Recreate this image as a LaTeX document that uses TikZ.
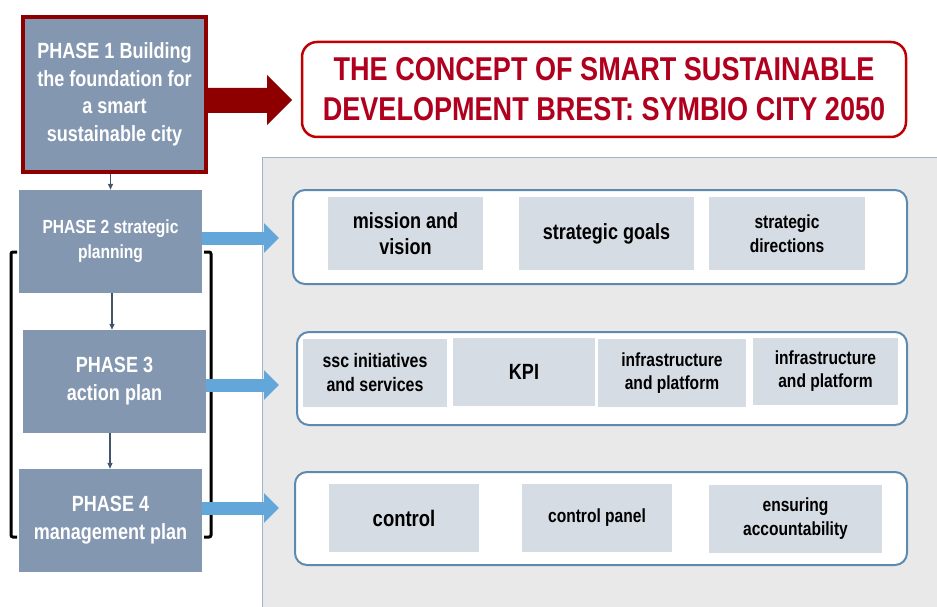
\documentclass[tikz,border=0pt]{standalone}
\usepackage{fontspec}
\newfontfamily\nar[FakeStretch=0.82]{Liberation Sans}
\usetikzlibrary{arrows.meta,calc}
\definecolor{phasefill}{HTML}{8497B0}
\definecolor{cellfill}{HTML}{D6DCE4}
\definecolor{rowborder}{HTML}{5E8AAF}
\definecolor{panelfill}{HTML}{E9E9E9}
\definecolor{panelborder}{HTML}{9DB5CF}
\definecolor{bluearrow}{HTML}{62A6DA}
\definecolor{titlered}{HTML}{C00000}
\definecolor{titletext}{HTML}{B0001E}
\definecolor{darkred}{HTML}{8E0000}
\definecolor{slate}{HTML}{44546A}
\tikzset{
  phase/.style={fill=phasefill, text=white, font=\nar\bfseries, align=center, inner sep=0pt},
  cell/.style={fill=cellfill, text=black, font=\nar\bfseries, align=center, inner sep=0pt},
  rowbox/.style={draw=rowborder, line width=2pt, fill=white, rounded corners=12pt, inner sep=0pt},
  bluearr/.style={draw=bluearrow, line width=13pt, -{Triangle[length=15pt,width=29pt]}},
  phasearr/.style={draw=slate, line width=1.3pt, -{Triangle[length=6pt,width=5pt]}},
  bracket/.style={draw=black, line width=3pt, rounded corners=2pt}
}
\begin{document}
\begin{tikzpicture}[x=1pt,y=-1pt]
\useasboundingbox (0,0) rectangle (937,607);
% gray panel
\fill[panelfill] (262,158) rectangle (940,610);
\draw[panelborder, line width=1pt] (262,610) -- (262,158) -- (940,158);

% title
\node[draw=titlered, line width=2.5pt, fill=white, rounded corners=15pt,
      minimum width=604pt, minimum height=95pt, inner sep=0pt,
      text=titletext, font=\nar\bfseries\fontsize{33}{40}\selectfont, align=center]
      (title) at (604,89.5) {THE CONCEPT OF SMART SUSTAINABLE\\DEVELOPMENT BREST: SYMBIO CITY 2050};

% phases
\node[phase, draw=darkred, line width=4pt, minimum width=183pt, minimum height=154pt,
      font=\nar\bfseries\fontsize{22}{27.5}\selectfont]
      (p1) at (114.5,94.5) {PHASE 1 Building\\the foundation for\\a smart\\sustainable city};
\node[phase, minimum width=183pt, minimum height=103pt,
      font=\nar\bfseries\fontsize{19}{25}\selectfont]
      (p2) at (110.5,241.5) {PHASE 2 strategic\\planning};
\node[phase, minimum width=183pt, minimum height=103pt,
      font=\nar\bfseries\fontsize{22}{28}\selectfont]
      (p3) at (114.5,381.5) {PHASE 3\\action plan};
\node[phase, minimum width=183pt, minimum height=103pt,
      font=\nar\bfseries\fontsize{22}{28}\selectfont]
      (p4) at (110.5,520.5) {PHASE 4\\management plan};

% big red arrow
\fill[darkred] (p1.east |- 0,88) -- (267,88) -- (267,75) -- (292,100) -- (267,125) -- (267,113) -- (p1.east |- 0,113) -- cycle;

% phase arrows
\draw[phasearr] (p1.south -| p2.north) -- (p2.north);
\draw[phasearr] ([xshift=1.5pt]p2.south) -- ([xshift=-2.5pt]p3.north);
\draw[phasearr] ([xshift=-4.5pt]p3.south) -- ([xshift=-0.5pt]p4.north);

% brackets
\draw[bracket] (17,252) -- (11,252) -- (11,537) -- (17,537);
\draw[bracket] (204,252) -- (211,252) -- (211,537) -- (204,537);

% row boxes
\node[rowbox, minimum width=614pt, minimum height=94pt] (r1) at (600,237) {};
\node[rowbox, minimum width=610pt, minimum height=93pt] (r2) at (602,378.5) {};
\node[rowbox, minimum width=612pt, minimum height=93pt] (r3) at (601,518.5) {};

% row 1 cells
\node[cell, minimum width=155pt, minimum height=73pt, font=\nar\bfseries\fontsize{22}{26}\selectfont] (c11) at (405.5,233.5) {mission and\\vision};
\node[cell, minimum width=175pt, minimum height=73pt, font=\nar\bfseries\fontsize{22}{26}\selectfont] (c12) at (606.5,233.5) {strategic goals};
\node[cell, minimum width=156pt, minimum height=73pt, font=\nar\bfseries\fontsize{19}{24}\selectfont] (c13) at (787,233.5) {strategic\\directions};

% row 2 cells
\node[cell, minimum width=144pt, minimum height=68pt, font=\nar\bfseries\fontsize{19.5}{24}\selectfont] (c21) at (375,373) {ssc initiatives\\and services};
\node[cell, minimum width=142pt, minimum height=68pt, font=\nar\bfseries\fontsize{22}{26}\selectfont] (c22) at (524,372) {KPI};
\node[cell, minimum width=148pt, minimum height=68pt, font=\nar\bfseries\fontsize{19}{23}\selectfont] (c23) at (672,373) {infrastructure\\and platform};
\node[cell, minimum width=145pt, minimum height=67pt, font=\nar\bfseries\fontsize{19}{23}\selectfont] (c24) at (825.5,371) {infrastructure\\and platform};

% row 3 cells
\node[cell, minimum width=150pt, minimum height=68pt, font=\nar\bfseries\fontsize{22.5}{26}\selectfont] (c31) at (404,518) {control};
\node[cell, minimum width=150pt, minimum height=68pt, font=\nar\bfseries\fontsize{19}{24}\selectfont] (c32) at (597,518) {control panel};
\node[cell, minimum width=173pt, minimum height=68pt, font=\nar\bfseries\fontsize{19}{24}\selectfont] (c33) at (795.5,519) {ensuring\\accountability};

% blue arrows
\draw[bluearr, shorten >=13pt] ([yshift=3.5pt]p2.east) -- ([yshift=3.5pt]p2.east -| r1.west);
\draw[bluearr, shorten >=17pt] ([yshift=-3.5pt]p3.east) -- ([yshift=-3.5pt]p3.east -| r2.west);
\draw[bluearr, shorten >=15pt] ([yshift=12.5pt]p4.east) -- ([yshift=12.5pt]p4.east -| r3.west);
\end{tikzpicture}
\end{document}
